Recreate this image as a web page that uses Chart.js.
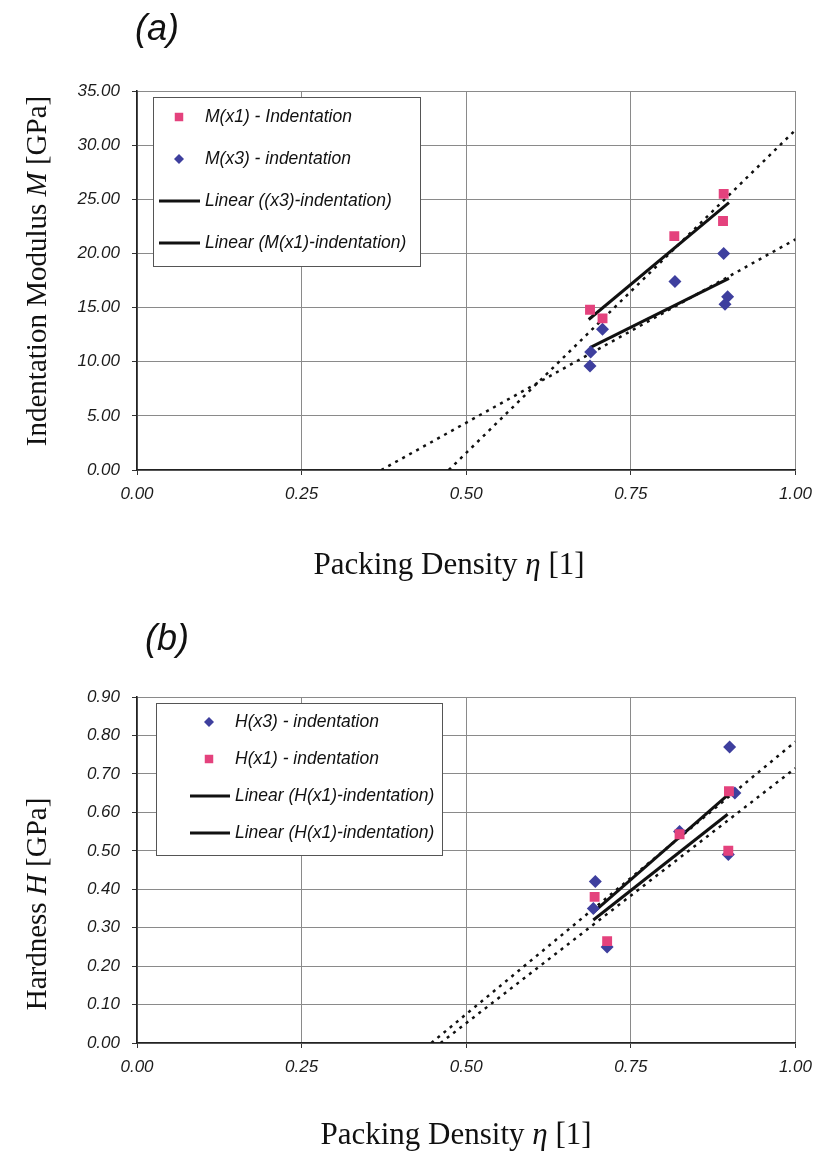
<!DOCTYPE html>
<html>
<head>
<meta charset="utf-8">
<script src="https://cdn.jsdelivr.net/npm/chart.js@4.4.1/dist/chart.umd.min.js"></script>
<style>
  body { margin: 0; background: #fff; }
  canvas { position: absolute; left: 0; }
</style>
</head>
<body>
<canvas id="modulusChart" width="821" height="600" style="top:0"></canvas>
<canvas id="hardnessChart" width="821" height="554" style="top:600px"></canvas>
<script>
// --- (a) indentation modulus ---
const packingM1 = [0.688, 0.707, 0.816, 0.891, 0.890];
const modulusM1 = [14.8, 14.0, 21.6, 25.5, 23.0];
const packingM3 = [0.707, 0.689, 0.688, 0.817, 0.891, 0.897, 0.893];
const modulusM3 = [13.0, 10.9, 9.6, 17.4, 20.0, 16.0, 15.3];
const fitM1X = [0.686, 0.899];
const fitM1Y = [13.9, 24.7];
const fitM3X = [0.688, 0.899];
const fitM3Y = [11.3, 17.7];
const trendM1X = [0.4735, 1.0];
const trendM1Y = [0, 31.4];
const trendM3X = [0.371, 1.0];
const trendM3Y = [0, 21.3];

// --- (b) hardness ---
const packingH3 = [0.696, 0.693, 0.714, 0.824, 0.900, 0.908, 0.898];
const hardnessH3 = [0.42, 0.35, 0.25, 0.55, 0.77, 0.65, 0.49];
const packingH1 = [0.695, 0.714, 0.824, 0.899, 0.898];
const hardnessH1 = [0.38, 0.265, 0.543, 0.655, 0.50];
const fitUpperX = [0.693, 0.897];
const fitUpperY = [0.34, 0.645];
const fitLowerX = [0.693, 0.897];
const fitLowerY = [0.32, 0.595];
const trendUpperX = [0.447, 1.0];
const trendUpperY = [0, 0.784];
const trendLowerX = [0.461, 1.0];
const trendLowerY = [0, 0.715];

const packingTicks = [0, 0.25, 0.5, 0.75, 1.0];

const PINK = '#E4427D';
const BLUE = '#3E3F9E';
const SANS = '"Liberation Sans", Arial, sans-serif';
const SERIF = '"Liberation Serif", "Times New Roman", serif';

function points(xs, ys) {
    return xs.map((x, i) => ({ x: x, y: ys[i] }));
}

function squares(label, xs, ys, order) {
    return { label, data: points(xs, ys), pointStyle: 'rect', pointRadius: 7,
             backgroundColor: PINK, borderWidth: 0, showLine: false, order };
}

function diamonds(label, xs, ys, order) {
    return { label, data: points(xs, ys), pointStyle: 'rectRot', pointRadius: 6.5,
             backgroundColor: BLUE, borderWidth: 0, showLine: false, order };
}

function solidLine(label, xs, ys) {
    return { label, data: points(xs, ys), showLine: true, pointRadius: 0,
             borderColor: '#111', borderWidth: 3, order: 3 };
}

function dottedLine(label, xs, ys) {
    return { label, data: points(xs, ys), showLine: true, pointRadius: 0,
             borderColor: '#111', borderWidth: 2.5, borderDash: [3, 5], order: 4 };
}

// rich text (mixed upright / italic) for axis captions and panel letters
const captions = {
    id: 'captions',
    afterDraw(chart, args, opts) {
        const ctx = chart.ctx;
        (opts.items || []).forEach(item => {
            ctx.save();
            ctx.translate(item.x, item.y);
            if (item.rotate) ctx.rotate(item.rotate);
            ctx.textBaseline = 'middle';
            ctx.fillStyle = '#111';
            let total = 0;
            item.parts.forEach(([text, font]) => { ctx.font = font; total += ctx.measureText(text).width; });
            let x = -total / 2;
            item.parts.forEach(([text, font]) => {
                ctx.font = font;
                ctx.fillText(text, x, 0);
                x += ctx.measureText(text).width;
            });
            ctx.restore();
        });
    }
};

// boxed legend sitting inside the plot area
const insetLegend = {
    id: 'insetLegend',
    afterDraw(chart, args, opts) {
        const ctx = chart.ctx;
        const b = opts.box;
        ctx.save();
        ctx.fillStyle = '#fff';
        ctx.fillRect(b.x, b.y, b.w, b.h);
        ctx.strokeStyle = '#555';
        ctx.lineWidth = 1;
        ctx.strokeRect(b.x + 0.5, b.y + 0.5, b.w, b.h);
        ctx.textBaseline = 'middle';
        opts.entries.forEach((idx, row) => {
            const ds = chart.data.datasets[idx];
            const y = b.y + opts.firstRow + row * opts.rowGap;
            if (ds.showLine) {
                ctx.strokeStyle = ds.borderColor;
                ctx.lineWidth = ds.borderWidth;
                ctx.beginPath();
                ctx.moveTo(opts.lineFrom, y);
                ctx.lineTo(opts.lineTo, y);
                ctx.stroke();
            } else {
                ctx.fillStyle = ds.backgroundColor;
                Chart.helpers.drawPoint(ctx, { pointStyle: ds.pointStyle, radius: ds.pointStyle === 'rect' ? 6 : 5,
                                               rotation: 0, borderWidth: 0 }, opts.markerX, y);
            }
            ctx.fillStyle = '#111';
            ctx.font = 'italic 17.5px ' + SANS;
            ctx.fillText(ds.label, opts.textX, y);
        });
        ctx.restore();
    }
};

function scales(yMax, yStep, xAxisHeight) {
    const tickFont = { family: SANS, size: 17, style: 'italic' };
    return {
        x: {
            type: 'linear', min: 0, max: 1,
            afterBuildTicks: s => { s.ticks = packingTicks.map(v => ({ value: v })); },
            ticks: { callback: v => v.toFixed(2), font: tickFont, color: '#1b1b1b',
                     padding: 9, maxRotation: 0, autoSkip: false },
            grid: { color: '#8a8a8a', lineWidth: 1, tickLength: 5, tickColor: '#333' },
            border: { color: '#222', width: 1.6 },
            afterFit: s => { s.height = xAxisHeight; }
        },
        y: {
            type: 'linear', min: 0, max: yMax,
            ticks: { stepSize: yStep, callback: v => v.toFixed(2), font: tickFont, color: '#1b1b1b', padding: 12 },
            grid: { color: '#8a8a8a', lineWidth: 1, tickLength: 5, tickColor: '#333' },
            border: { color: '#222', width: 1.6 },
            afterFit: s => { s.width = 137; }
        }
    };
}

function axisTitle(pre, symbol, post, size) {
    const up = size + 'px ' + SERIF;
    const it = 'italic ' + size + 'px ' + SERIF;
    return [[pre, up], [symbol, it], [post, up]];
}

new Chart(document.getElementById('modulusChart'), {
    type: 'scatter',
    data: {
        datasets: [
            squares('M(x1) - Indentation', packingM1, modulusM1, 1),
            diamonds('M(x3) - indentation', packingM3, modulusM3, 2),
            solidLine('Linear ((x3)-indentation)', fitM3X, fitM3Y),
            solidLine('Linear (M(x1)-indentation)', fitM1X, fitM1Y),
            dottedLine('Trend M(x1)', trendM1X, trendM1Y),
            dottedLine('Trend M(x3)', trendM3X, trendM3Y)
        ]
    },
    options: {
        responsive: false,
        animation: false,
        layout: { padding: { top: 91, right: 20, bottom: 0, left: 0 } },
        scales: scales(35, 5, 130),
        plugins: {
            legend: { display: false },
            tooltip: { enabled: false },
            insetLegend: {
                box: { x: 153, y: 97, w: 267, h: 169 },
                entries: [0, 1, 2, 3],
                firstRow: 20, rowGap: 42,
                markerX: 179, lineFrom: 159, lineTo: 200, textX: 205
            },
            captions: {
                items: [
                    { x: 157, y: 30, parts: [['(a)', 'italic 36px ' + SANS]] },
                    { x: 449, y: 566, parts: axisTitle('Packing Density ', 'η', ' [1]', 31) },
                    { x: 38, y: 271, rotate: -Math.PI / 2, parts: axisTitle('Indentation Modulus ', 'M', ' [GPa]', 29) }
                ]
            }
        }
    },
    plugins: [insetLegend, captions]
});

new Chart(document.getElementById('hardnessChart'), {
    type: 'scatter',
    data: {
        datasets: [
            diamonds('H(x3) - indentation', packingH3, hardnessH3, 2),
            squares('H(x1) - indentation', packingH1, hardnessH1, 1),
            solidLine('Linear (H(x1)-indentation)', fitUpperX, fitUpperY),
            solidLine('Linear (H(x1)-indentation)', fitLowerX, fitLowerY),
            dottedLine('Trend upper', trendUpperX, trendUpperY),
            dottedLine('Trend lower', trendLowerX, trendLowerY)
        ]
    },
    options: {
        responsive: false,
        animation: false,
        layout: { padding: { top: 97, right: 20, bottom: 0, left: 0 } },
        scales: scales(0.9, 0.1, 111),
        plugins: {
            legend: { display: false },
            tooltip: { enabled: false },
            insetLegend: {
                box: { x: 156, y: 103, w: 286, h: 152 },
                entries: [0, 1, 2, 3],
                firstRow: 19, rowGap: 37,
                markerX: 209, lineFrom: 190, lineTo: 230, textX: 235
            },
            captions: {
                items: [
                    { x: 167, y: 40, parts: [['(b)', 'italic 36px ' + SANS]] },
                    { x: 456, y: 536, parts: axisTitle('Packing Density ', 'η', ' [1]', 31) },
                    { x: 38, y: 304, rotate: -Math.PI / 2, parts: axisTitle('Hardness ', 'H', ' [GPa]', 29) }
                ]
            }
        }
    },
    plugins: [insetLegend, captions]
});
</script>
</body>
</html>
